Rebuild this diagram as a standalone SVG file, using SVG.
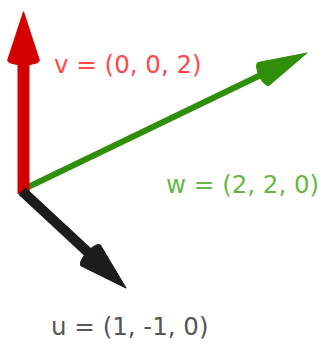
<svg xmlns="http://www.w3.org/2000/svg" width="326" height="345" viewBox="0 0 326 345">
  <style>
    .lbl { font-family: "DejaVu Sans", Verdana, sans-serif; font-size: 24.5px; }
    .red { fill: #d40000; stroke: #d40000; }
    .green { fill: #2f8f0a; stroke: #2f8f0a; }
    .black { fill: #1c1c1c; stroke: #1c1c1c; }
    .shaft { fill: none; stroke-linecap: butt; }
    .head { stroke-width: 1; stroke-linejoin: round; }
  </style>
  <defs>
    <path id="head" d="M0,0 L-48,-15 A5,15 0 0 0 -48,15 Z"/>
  </defs>
  <rect width="326" height="345" fill="#ffffff"/>
  <g id="connectors">
    <g id="vec-w" class="green">
      <line class="shaft" x1="22" y1="190" x2="267" y2="72" stroke-width="6"/>
      <use href="#head" class="head" transform="translate(307,53) rotate(-25.7) scale(1,0.85)"/>
    </g>
    <g id="vec-v" class="red">
      <line class="shaft" x1="23.5" y1="194" x2="23.5" y2="58" stroke-width="12"/>
      <use href="#head" class="head" transform="translate(23.5,12) rotate(-90) scale(1,1.05)"/>
    </g>
    <g id="vec-u" class="black">
      <line class="shaft" x1="22" y1="191" x2="92" y2="256" stroke-width="10"/>
      <use href="#head" class="head" transform="translate(126,288) rotate(42.7) scale(1,0.95)"/>
    </g>
  </g>
  <g id="label-v"><text class="lbl" x="54" y="73" fill="#ff4a4a">v = (0, 0, 2)</text></g>
  <g id="label-w"><text class="lbl" x="166" y="193" fill="#66b845">w = (2, 2, 0)</text></g>
  <g id="label-u"><text class="lbl" x="51" y="335" fill="#555555">u = (1, -1, 0)</text></g>
</svg>
